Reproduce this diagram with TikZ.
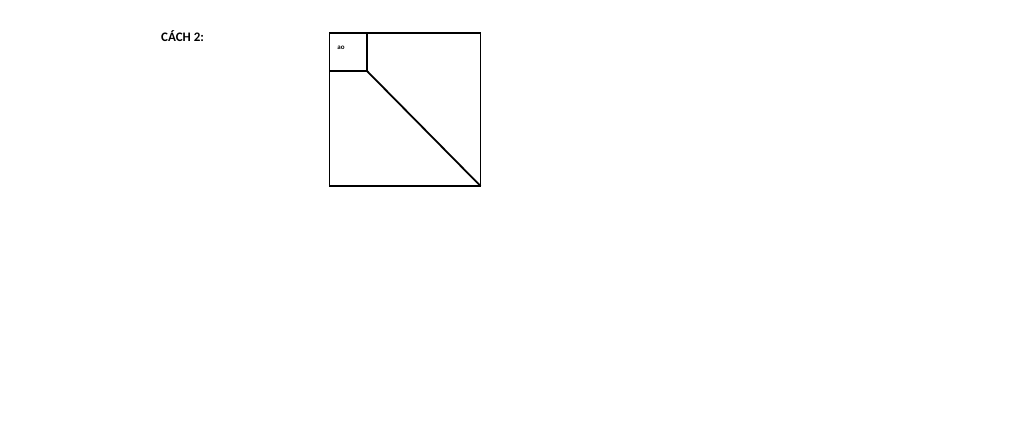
\documentclass[tikz,border=0pt]{standalone}
\usepackage{fontspec}
\setmainfont{Carlito}
\tikzset{
  wall/.style={draw=black, line width=1.8pt, line join=miter},
  label text/.style={inner sep=0pt, font=\bfseries\fontsize{#1}{#1}\selectfont}
}
\begin{document}
\begin{tikzpicture}[x=1pt,y=-1pt,
  title/.style={label text=13, anchor=base west}
]
\useasboundingbox (0,0) rectangle (1024,445);
\node[title] (cach) at (161,41) {CÁCH 2:};
% the big square
\coordinate (nw) at (329.5,33);
\coordinate (se) at (480.5,186);
\coordinate (corner) at (366.7,70.7);
\draw[wall] (nw) rectangle (se);
% the small square and the cut
\draw[wall] (nw |- corner) -- (corner) -- (corner |- nw);
\draw[wall] (corner) -- (se);
\node[label text=7] (ao) at (341,47.5) {ao};
\end{tikzpicture}
\end{document}
